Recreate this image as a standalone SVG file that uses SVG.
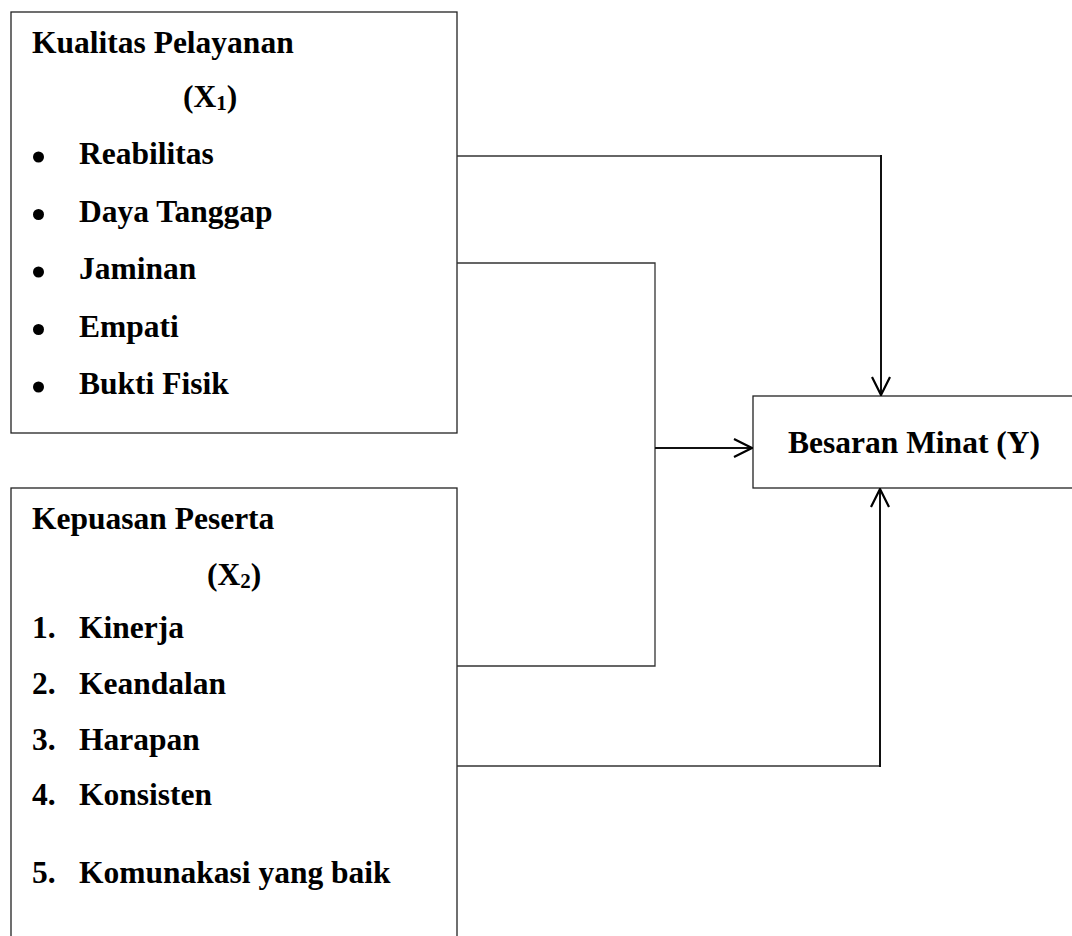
<svg xmlns="http://www.w3.org/2000/svg" width="1072" height="936" viewBox="0 0 1072 936">
<style>
.box{fill:#fff;stroke:#222;stroke-width:1.3}
.t{font-family:"Liberation Serif","Times New Roman",serif;font-weight:bold;font-size:31.5px;fill:#000}
.sub{font-size:21px}
.thin{fill:none;stroke:#333;stroke-width:1.3}
.thick{fill:none;stroke:#111;stroke-width:2}
.bul{fill:#000}
</style>
<defs>
<marker id="arr" viewBox="0 0 20 20" refX="19" refY="10" markerWidth="20" markerHeight="20" markerUnits="userSpaceOnUse" orient="auto">
<path d="M1,1 L19,10 L1,19" fill="none" stroke="#000" stroke-width="2.2"/>
</marker>
</defs>
<rect width="1072" height="936" fill="#fff"/>
<g id="x1">
<rect class="box" x="11" y="12" width="446" height="421"/>
<text class="t" x="32" y="53">Kualitas Pelayanan</text>
<text class="t" x="183" y="107">(X<tspan class="sub" dy="3">1</tspan><tspan dy="-3">)</tspan></text>
<circle class="bul" cx="38.5" cy="157" r="5.5"/>
<text class="t" x="79" y="164">Reabilitas</text>
<circle class="bul" cx="38.5" cy="214.5" r="5.5"/>
<text class="t" x="79" y="222">Daya Tanggap</text>
<circle class="bul" cx="38.5" cy="272" r="5.5"/>
<text class="t" x="79" y="279">Jaminan</text>
<circle class="bul" cx="38.5" cy="329.5" r="5.5"/>
<text class="t" x="79" y="337">Empati</text>
<circle class="bul" cx="38.5" cy="387" r="5.5"/>
<text class="t" x="79" y="394">Bukti Fisik</text>
</g>
<g id="x2">
<rect class="box" x="11" y="488" width="446" height="460"/>
<text class="t" x="32" y="529">Kepuasan Peserta</text>
<text class="t" x="207" y="585">(X<tspan class="sub" dy="3">2</tspan><tspan dy="-3">)</tspan></text>
<text class="t" x="32" y="638">1.</text><text class="t" x="79" y="638">Kinerja</text>
<text class="t" x="32" y="694">2.</text><text class="t" x="79" y="694">Keandalan</text>
<text class="t" x="32" y="750">3.</text><text class="t" x="79" y="750">Harapan</text>
<text class="t" x="32" y="805">4.</text><text class="t" x="79" y="805">Konsisten</text>
<text class="t" x="32" y="883">5.</text><text class="t" x="79" y="883">Komunakasi yang baik</text>
</g>
<g id="y">
<rect class="box" x="753" y="396" width="330" height="92"/>
<text class="t" x="788" y="453">Besaran Minat (Y)</text>
</g>
<g id="connectors">
<path class="thin" d="M457,156 H881"/>
<path class="thick" d="M881,155 V395" marker-end="url(#arr)"/>
<path class="thin" d="M457,263 H655 V666 H457"/>
<path class="thick" d="M655,448 H752" marker-end="url(#arr)"/>
<path class="thin" d="M457,766 H880"/>
<path class="thick" d="M880,767 V489" marker-end="url(#arr)"/>
</g>
</svg>
